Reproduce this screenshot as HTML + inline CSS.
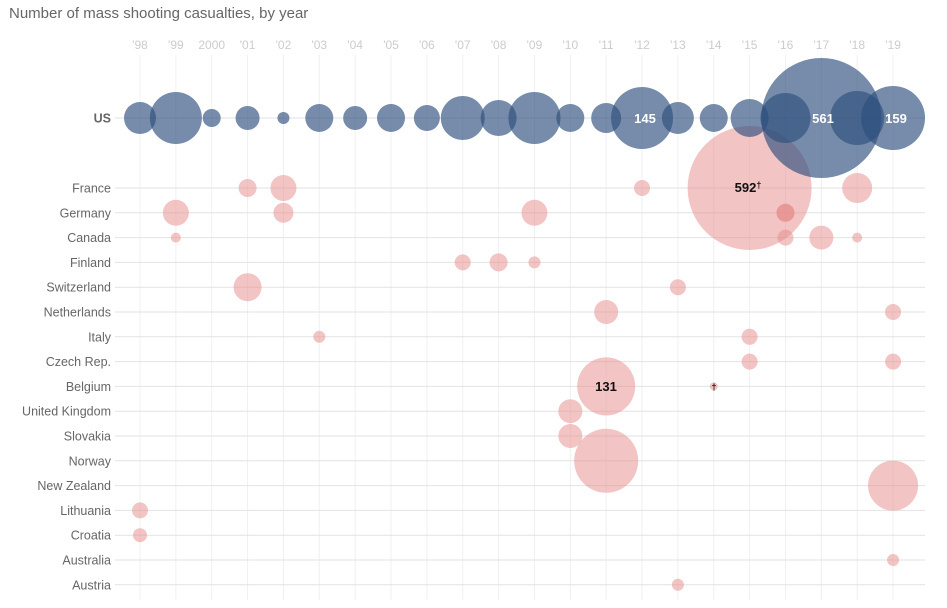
<!DOCTYPE html>
<html><head><meta charset="utf-8"><style>
body{margin:0;background:#fff;}
svg{display:block;font-family:"Liberation Sans",sans-serif;}
</style></head><body>
<svg width="947" height="608" viewBox="0 0 947 608">
<text x="9" y="18" font-size="15" fill="#666">Number of mass shooting casualties, by year</text>
<g id="vg" stroke="#f0f0f0" stroke-width="1"></g>
<g id="yl" font-size="12" fill="#ccc" text-anchor="middle"></g>
<g id="hg" stroke="#e2e2e2" stroke-width="1"></g>
<g id="rl" font-size="12.5" fill="#666" text-anchor="end"></g>
<g id="pk" fill="#e58a8a" fill-opacity="0.5"></g>
<g id="us" fill="#2c4f7c" fill-opacity="0.65"></g>
<g font-weight="bold" font-size="13" text-anchor="middle">
<text x="645" y="123" fill="#fff">145</text>
<text x="823" y="123" fill="#fff">561</text>
<text x="896" y="123" fill="#fff">159</text>
<text x="748" y="192" fill="#111">592<tspan font-size="9" dy="-4">†</tspan></text>
<text x="606" y="391" fill="#111">131</text>
<text x="714" y="390" fill="#111" font-size="9">†</text>
</g>
</svg>
<script>
const NS="http://www.w3.org/2000/svg";
const yrs=["'98","'99","2000","'01","'02","'03","'04","'05","'06","'07","'08","'09","'10","'11","'12","'13","'14","'15","'16","'17","'18","'19"];
const X=i=>140+i*35.86;
function el(g,t,a,txt){const e=document.createElementNS(NS,t);for(const k in a)e.setAttribute(k,a[k]);if(txt)e.textContent=txt;document.getElementById(g).appendChild(e);}
yrs.forEach((y,i)=>{el("vg","line",{x1:X(i),x2:X(i),y1:55,y2:600});el("yl","text",{x:X(i),y:49},y);});
const rows=["US","France","Germany","Canada","Finland","Switzerland","Netherlands","Italy","Czech Rep.","Belgium","United Kingdom","Slovakia","Norway","New Zealand","Lithuania","Croatia","Australia","Austria"];
const Y=r=>r==0?118:188+(r-1)*24.8;
rows.forEach((n,r)=>{el("hg","line",{x1:115,x2:925,y1:Y(r),y2:Y(r)});
el("rl","text",{x:111,y:Y(r)+4.5,"font-weight":r==0?"bold":"normal"},n);});
const us=[16,26,9,12,6,14,12,14,13,22,18,26,14,15,31,16,14,19,25,60,27,32];
us.forEach((r,i)=>el("us","circle",{cx:X(i),cy:118,r:r}));
const pk=[[1,3,9],[1,4,13],[1,14,8],[1,17,62],[1,20,15],[2,1,13],[2,4,10],[2,11,13],[2,18,9],[2,18,9],[3,1,5],[3,18,8],[3,19,12],[3,20,5],
[4,9,8],[4,10,9],[4,11,6],[5,3,14],[5,15,8],[6,13,12],[6,21,8],[7,5,6],[7,17,8],[8,17,8],[8,21,8],[9,13,29],[9,16,4],[10,12,12],[11,12,12],[12,13,32],[13,21,25],[14,0,8],[15,0,7],[16,21,6],[17,15,6]];
pk.forEach(([r,i,s])=>el("pk","circle",{cx:X(i),cy:Y(r),r:s}));
</script>
</body></html>
